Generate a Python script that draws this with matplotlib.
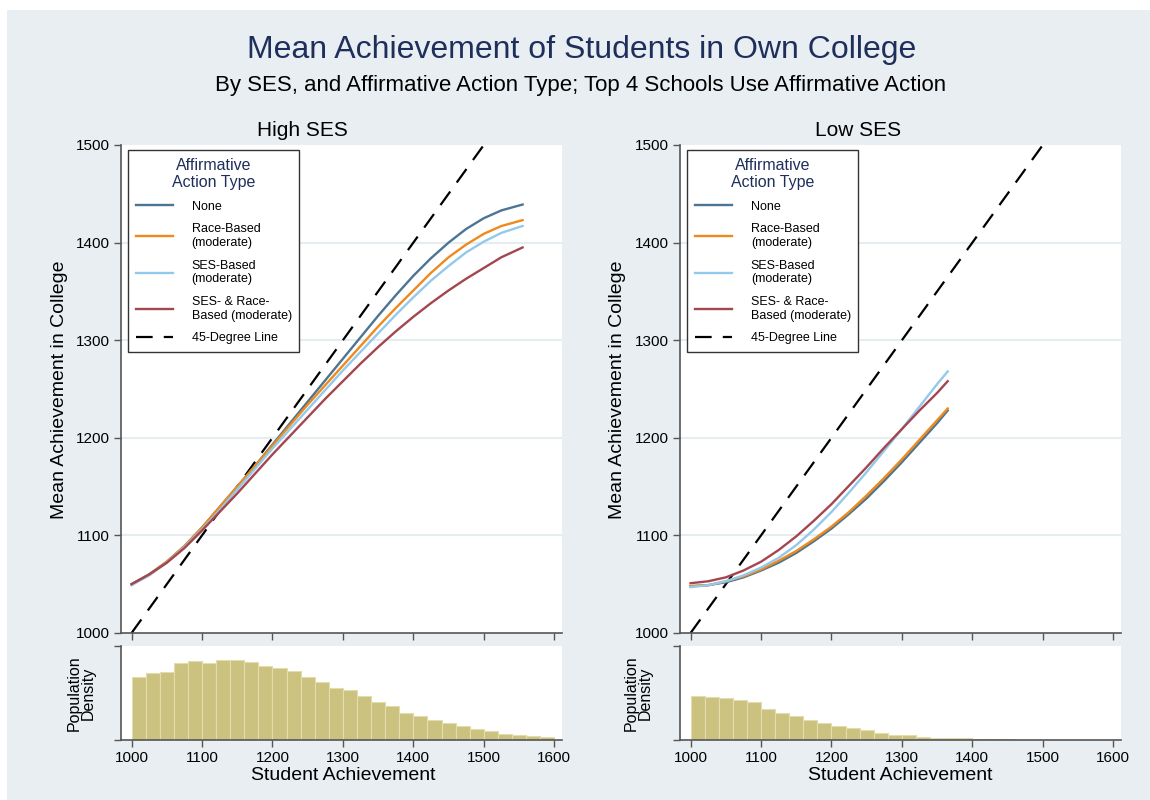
import numpy as np
import matplotlib
matplotlib.use("Agg")
import matplotlib.pyplot as plt
from matplotlib.patches import Rectangle

plt.rcParams['font.family'] = ['Liberation Sans', 'DejaVu Sans']

# curves, high SES panel
hi_x = [1000, 1025, 1050, 1075, 1100, 1125, 1150, 1175, 1200, 1225, 1250, 1275,
        1300, 1325, 1350, 1375, 1400, 1425, 1450, 1475, 1500, 1525, 1555]
hi_none = [1050, 1060, 1073, 1089, 1108, 1129, 1150, 1171, 1193, 1215, 1237, 1259,
           1281, 1303, 1325, 1346, 1366, 1384, 1400, 1414, 1425, 1433, 1439]
hi_race = [1050, 1060, 1073, 1089, 1108, 1129, 1150, 1171, 1192, 1213, 1234, 1254,
           1274, 1294, 1314, 1333, 1351, 1369, 1385, 1398, 1409, 1417, 1423]
hi_ses = [1049, 1059, 1072, 1088, 1106, 1126, 1147, 1168, 1189, 1209, 1229, 1249,
          1269, 1288, 1307, 1326, 1344, 1361, 1376, 1390, 1401, 1410, 1417]
hi_both = [1050, 1060, 1072, 1087, 1105, 1124, 1143, 1163, 1183, 1202, 1221, 1240,
           1258, 1276, 1293, 1309, 1324, 1338, 1351, 1363, 1374, 1385, 1395]

# curves, low SES panel
lo_x = [1000, 1025, 1050, 1075, 1100, 1125, 1150, 1175, 1200, 1225, 1250, 1275,
        1300, 1325, 1350, 1365]
lo_none = [1048, 1049, 1052, 1057, 1064, 1072, 1082, 1094, 1107, 1122, 1138, 1156,
           1175, 1195, 1215, 1228]
lo_race = [1048, 1049, 1053, 1058, 1065, 1074, 1084, 1096, 1109, 1124, 1141, 1159,
           1178, 1198, 1218, 1230]
lo_ses = [1047, 1049, 1053, 1059, 1067, 1077, 1090, 1106, 1124, 1144, 1165, 1187,
          1209, 1232, 1255, 1268]
lo_both = [1051, 1053, 1057, 1064, 1073, 1085, 1099, 1115, 1132, 1151, 1170, 1190,
           1209, 1228, 1246, 1258]

# population density, bins of 20 points from 1000 to 1600
bin_edges = list(range(1000, 1600, 20))
hi_dens = [1.88, 2.02, 2.04, 2.30, 2.37, 2.31, 2.40, 2.40, 2.34, 2.23,
           2.15, 2.08, 1.88, 1.73, 1.57, 1.49, 1.32, 1.13, 1.02, 0.81,
           0.72, 0.61, 0.50, 0.42, 0.32, 0.27, 0.18, 0.15, 0.12, 0.08]
lo_dens = [1.32, 1.29, 1.27, 1.20, 1.15, 0.94, 0.82, 0.71, 0.61, 0.50,
           0.43, 0.37, 0.29, 0.21, 0.16, 0.15, 0.10, 0.07, 0.06, 0.05,
           0.04, 0.03, 0.02, 0.01, 0.01, 0.01, 0.005, 0.005, 0.003, 0.003]
dens_top = 2.82

series = ["None", "Race-Based\n(moderate)", "SES-Based\n(moderate)",
          "SES- & Race-\nBased (moderate)"]
colors = ["#4C7493", "#EE8A1C", "#93C9EC", "#A3464F"]

W, H = 1150, 800
fig = plt.figure(figsize=(11.5, 8), dpi=100)
fig.patches.append(Rectangle((7 / W, 0), 1, 1 - 10 / H, transform=fig.transFigure,
                             facecolor="#E8EEF1", edgecolor="none", zorder=-10))

spine_c = "#555555"
grid_c = "#E6EDF1"


def panel(left, xs, curves, dens):
    w = 441 / W
    ax = fig.add_axes([left / W, 1 - 633 / H, w, 488 / H])
    ax.set_facecolor("white")
    for y in [1100, 1200, 1300, 1400]:
        ax.axhline(y, color=grid_c, lw=1.5, zorder=0)
    for c, ys, lab in zip(colors, curves, series):
        ax.plot(xs, ys, color=c, lw=1.7, label=lab, zorder=3)
    ax.plot([1000, 1500], [1000, 1500], color="black", lw=1.6, dashes=(7.5, 5),
            label="45-Degree Line", zorder=2)
    ax.set_xlim(985, 1611)
    ax.set_ylim(1000, 1500)
    ax.set_yticks([1000, 1100, 1200, 1300, 1400, 1500])
    ax.set_xticks(range(1000, 1700, 100))
    ax.set_xticklabels([])
    for s in ["top", "right"]:
        ax.spines[s].set_visible(False)
    for s in ["left", "bottom"]:
        ax.spines[s].set_color(spine_c)
        ax.spines[s].set_linewidth(1.2)
    ax.tick_params(length=5, width=1, color=spine_c, labelsize=11, pad=3)
    leg = ax.legend(loc="upper left", bbox_to_anchor=(7 / 441, 1 - 5 / 488),
                    borderaxespad=0, title="Affirmative\nAction Type", fontsize=9,
                    title_fontsize=11.5, frameon=True, fancybox=False,
                    edgecolor="#333333", framealpha=1, handlelength=3.0,
                    handletextpad=1.5, labelspacing=0.85, borderpad=0.6)
    leg.get_frame().set_linewidth(1.0)
    leg.get_title().set_color("#1F2F5C")
    leg.get_title().set_multialignment("center")

    hx = fig.add_axes([left / W, 1 - 740 / H, w, 94 / H])
    hx.set_facecolor("white")
    hx.bar(bin_edges, dens, width=20, align="edge", color="#CCC27F",
           edgecolor="#E2DCAE", linewidth=0.8)
    hx.set_xlim(985, 1611)
    hx.set_ylim(0, dens_top)
    hx.set_yticks([0, dens_top])
    hx.set_yticklabels([])
    hx.set_xticks(range(1000, 1700, 100))
    for s in ["top", "right"]:
        hx.spines[s].set_visible(False)
    for s in ["left", "bottom"]:
        hx.spines[s].set_color(spine_c)
        hx.spines[s].set_linewidth(1.2)
    hx.tick_params(length=5, width=1, color=spine_c, labelsize=11, pad=3)
    return ax, hx


panel(121, hi_x, [hi_none, hi_race, hi_ses, hi_both], hi_dens)
panel(680, lo_x, [lo_none, lo_race, lo_ses, lo_both], lo_dens)

fig.text(582 / W, 1 - 50 / H, "Mean Achievement of Students in Own College",
         ha="center", va="center", fontsize=23, color="#1F2F5C")
fig.text(581 / W, 1 - 86 / H,
         "By SES, and Affirmative Action Type; Top 4 Schools Use Affirmative Action",
         ha="center", va="center", fontsize=16, color="black")
fig.text(302 / W, 1 - 131 / H, "High SES", ha="center", va="center", fontsize=15)
fig.text(858 / W, 1 - 131 / H, "Low SES", ha="center", va="center", fontsize=15)
for x0 in [60, 617]:
    fig.text(x0 / W, 1 - 390 / H, "Mean Achievement in College", rotation=90,
             ha="center", va="center", fontsize=14)
for x0 in [81, 638]:
    fig.text(x0 / W, 1 - 693 / H, "Population\nDensity", rotation=90,
             ha="center", va="center", fontsize=11.5, linespacing=0.95)
for x0 in [343, 900]:
    fig.text(x0 / W, 1 - 775 / H, "Student Achievement", ha="center", va="center",
             fontsize=14)

fig.savefig("out.png", dpi=100)
